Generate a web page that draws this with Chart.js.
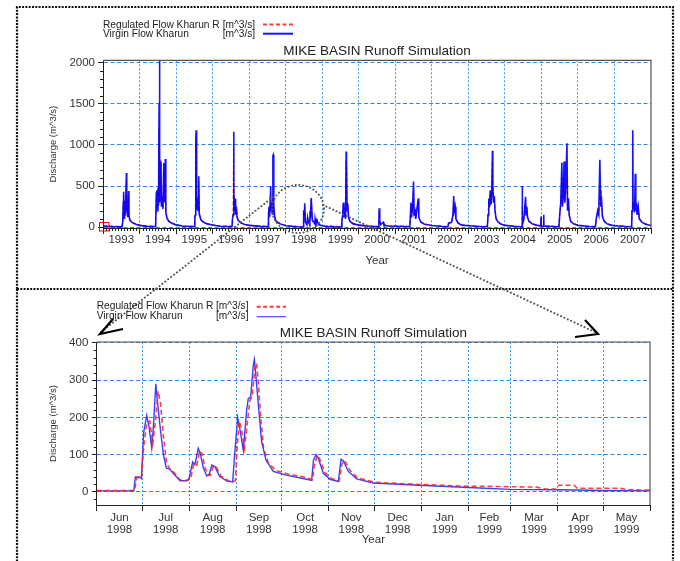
<!DOCTYPE html>
<html><head><meta charset="utf-8">
<script src="https://cdn.jsdelivr.net/npm/chart.js@4/dist/chart.umd.min.js"></script>
<style>
html,body{margin:0;padding:0;background:#fff;}
#wrap{position:relative;width:680px;height:561px;overflow:hidden;background:#fff;}
canvas{position:absolute;left:0;}
#cTop{top:0;}
#cBot{top:290px;}
svg{position:absolute;left:0;top:0;}
</style></head><body>
<div id="wrap">
<canvas id="cTop" width="680" height="290"></canvas>
<canvas id="cBot" width="680" height="271"></canvas>
<svg width="680" height="561" xmlns="http://www.w3.org/2000/svg">
  <g fill="none" stroke="#111" stroke-width="2.2" stroke-dasharray="2 1.3">
    <path d="M17,289 V7 H673 V561"/>
    <path d="M17,289 H673"/>
    <path d="M17,289 V561"/>
  </g>
  <g fill="none" stroke="#555" stroke-width="2" stroke-dasharray="0.1 3.6" stroke-linecap="round">
    <ellipse cx="298" cy="209" rx="26" ry="24"/>
    <path d="M273,197 L101,332"/>
    <path d="M323,205 L597,333"/>
  </g>
  <g fill="none" stroke="#000" stroke-width="2.2" stroke-linejoin="miter">
    <path d="M123,329 L100,334 L113,319"/>
    <path d="M575,337 L598,334 L585,320"/>
  </g>
  <rect x="99.5" y="222.5" width="9.5" height="8.5" fill="none" stroke="#ff0000" stroke-width="1"/>
  <g font-family="'Liberation Sans', Arial, sans-serif" font-size="10.2" fill="#222">
    <text x="103" y="28.3">Regulated Flow Kharun R</text>
    <text x="222.7" y="28.3">[m^3/s]</text>
    <text x="103" y="36.9">Virgin Flow Kharun</text>
    <text x="222.7" y="36.9">[m^3/s]</text>
    <text x="96.7" y="309">Regulated Flow Kharun R</text>
    <text x="216" y="309">[m^3/s]</text>
    <text x="96.7" y="318.6">Virgin Flow Kharun</text>
    <text x="216" y="318.6">[m^3/s]</text>
  </g>
  <line x1="263" y1="24.4" x2="293" y2="24.4" stroke="#ff3b3b" stroke-width="2" stroke-dasharray="4 2.5"/>
  <line x1="263" y1="33.7" x2="293" y2="33.7" stroke="#1515ff" stroke-width="2"/>
  <line x1="256.7" y1="306.7" x2="286" y2="306.7" stroke="#ff3b3b" stroke-width="2" stroke-dasharray="4 2.5"/>
  <line x1="256.7" y1="316.7" x2="286" y2="316.7" stroke="#4a4aff" stroke-width="1.2"/>
</svg>
</div>
<script>
// ---------- DATA: top chart (decimal year, m^3/s) ----------
const topYearLabels = ['1993','1994','1995','1996','1997','1998','1999','2000','2001','2002','2003','2004','2005','2006','2007'];
const topYTickValues = [0, 500, 1000, 1500, 2000];
const topX = [
 1993.000,1993.300,1993.520,1993.540,1993.555,1993.565,1993.575,1993.590,1993.605,1993.620,1993.640,1993.650,1993.665,1993.680,1993.700,1993.710,1993.730,1993.800,1993.900,
 1994.000,1994.200,1994.440,1994.460,1994.475,1994.490,1994.505,1994.520,1994.535,1994.546,1994.555,1994.570,1994.585,1994.600,1994.620,1994.640,1994.665,1994.680,1994.705,1994.720,1994.750,1994.800,1994.900,
 1995.000,1995.200,1995.500,1995.515,1995.530,1995.540,1995.548,1995.556,1995.570,1995.580,1995.595,1995.605,1995.620,1995.635,1995.680,1995.750,1995.850,
 1996.000,1996.200,1996.530,1996.545,1996.560,1996.575,1996.585,1996.600,1996.615,1996.630,1996.650,1996.670,1996.700,1996.780,1996.880,
 1997.000,1997.300,1997.520,1997.530,1997.545,1997.560,1997.590,1997.600,1997.620,1997.635,1997.650,1997.660,1997.675,1997.700,1997.740,1997.850,
 1998.000,1998.300,1998.480,1998.485,1998.500,1998.505,1998.520,1998.540,1998.580,1998.600,1998.620,1998.660,1998.670,1998.677,1998.700,1998.730,1998.800,1998.806,1998.830,1998.856,1998.900,
 1999.000,1999.080,1999.160,1999.250,1999.330,1999.520,1999.540,1999.560,1999.580,1999.595,1999.620,1999.640,1999.655,1999.665,1999.680,1999.700,1999.720,1999.760,1999.850,
 2000.000,2000.300,2000.550,2000.560,2000.575,2000.600,2000.670,2000.690,2000.800,
 2001.000,2001.400,2001.430,2001.445,2001.475,2001.500,2001.515,2001.540,2001.560,2001.630,2001.645,2001.700,2001.800,
 2002.000,2002.300,2002.440,2002.460,2002.540,2002.580,2002.600,2002.615,2002.640,2002.660,2002.720,2002.820,
 2003.000,2003.300,2003.520,2003.540,2003.560,2003.580,2003.600,2003.620,2003.640,2003.660,2003.670,2003.690,2003.710,2003.730,2003.760,2003.820,2003.900,
 2004.000,2004.300,2004.470,2004.475,2004.482,2004.520,2004.540,2004.566,2004.580,2004.600,2004.620,2004.660,2004.750,2004.850,2004.985,2004.990,2004.996,
 2005.055,2005.060,2005.070,2005.400,2005.480,2005.500,2005.530,2005.560,2005.575,2005.600,2005.620,2005.640,2005.660,2005.700,2005.715,2005.740,2005.760,2005.800,2005.880,
 2006.000,2006.300,2006.480,2006.500,2006.540,2006.570,2006.600,2006.615,2006.630,2006.650,2006.670,2006.720,2006.800,2006.900,
 2007.000,2007.300,2007.470,2007.480,2007.500,2007.510,2007.530,2007.550,2007.570,2007.585,2007.600,2007.620,2007.650,2007.680,2007.750,2007.850,2008.000
];
const topVirgin = [
 15,6,4,60,300,430,110,320,150,250,660,180,300,120,440,160,90,55,35,
 22,10,5,420,450,200,480,260,1500,2080,300,500,800,250,380,220,780,300,830,180,110,70,45,
 28,12,6,130,150,1050,1180,300,400,220,350,200,620,160,90,60,40,
 26,12,5,100,150,1160,420,200,350,150,250,120,80,50,32,
 22,10,5,150,250,120,500,200,300,160,870,880,250,120,70,40,
 18,6,3,40,205,118,290,62,30,117,70,27,200,112,355,85,40,100,34,88,30,
 18,12,7,6,4,3,80,150,300,120,250,100,920,800,200,280,120,70,40,
 25,10,4,230,80,30,60,25,15,
 12,5,300,120,250,554,150,220,100,350,120,60,35,
 20,8,4,50,60,150,380,200,250,100,50,25,
 18,8,5,150,350,250,450,280,400,930,500,300,380,200,100,60,35,
 22,8,5,500,30,100,200,370,150,250,120,70,40,25,15,130,15,
 10,150,15,6,5,150,300,785,250,400,800,300,450,1020,200,350,150,70,40,
 22,8,5,100,200,150,820,450,250,300,130,70,40,25,
 18,8,5,200,1180,250,300,180,650,200,300,150,250,100,60,35,20
];
const topRegulated = [
 16,12,10,55,280,390,120,300,160,230,560,200,280,130,380,170,95,60,40,
 25,14,12,380,400,220,450,270,1200,800,320,480,820,260,360,230,700,310,760,200,120,75,50,
 30,15,12,120,140,900,1000,310,380,230,330,210,560,170,95,65,45,
 28,15,12,95,140,950,400,210,330,160,240,130,85,55,36,
 24,13,11,140,230,130,300,210,280,170,320,300,260,130,75,45,
 20,10,4,38,190,130,270,62,31,110,70,28,190,118,345,80,45,98,36,85,32,
 20,15,14,18,10,6,75,140,280,130,240,110,790,780,210,260,130,75,45,
 28,14,10,200,85,35,55,30,20,
 16,10,280,130,230,480,160,210,110,320,130,65,40,
 24,12,10,45,55,140,300,210,240,110,55,30,
 22,12,10,140,330,240,420,270,380,800,480,290,360,210,110,65,40,
 26,12,10,250,35,95,190,330,160,240,130,75,45,30,18,100,18,
 14,120,18,10,10,140,280,600,260,380,620,290,420,600,210,330,160,75,45,
 26,12,10,95,190,160,500,420,240,280,140,75,45,30,
 22,12,10,180,300,260,280,190,320,210,280,160,240,110,65,40,24
];

// ---------- DATA: bottom chart (days since 1 Jun 1998, m^3/s) ----------
const botMonthLabels = [['Jun','1998'],['Jul','1998'],['Aug','1998'],['Sep','1998'],['Oct','1998'],['Nov','1998'],['Dec','1998'],['Jan','1999'],['Feb','1999'],['Mar','1999'],['Apr','1999'],['May','1999']];
const botMonthStarts = [0,30,61,92,122,153,183,214,245,273,304,334,365];
const botYTickValues = [0,100,200,300,400];
const botDays = [0,24.5,25.5,28,29.5,31,33,34.5,36.3,37.5,39,40,42,44,46,48,50.5,55,59.5,61,63.3,64.8,67,68.5,70.3,72.6,74,76,78,81,86,89.7,91,93,94.5,96.7,99,100,101.6,103.3,104,105,106.6,108.8,111.7,116.5,125,138.5,141.8,143,144.7,146,149.5,154,159.4,161.2,162.7,166,171.5,182.5,213,245,273,305,334,365];
const botVirgin = [3,3,40,40,36,160,205,175,118,182,290,245,168,100,64,62,50,30,30,37,80,73,117,100,65,43,45,72,68,42,29,27,100,200,168,112,222,250,255,340,355,312,235,135,85,55,45,34,31,85,100,92,50,34,28,88,84,55,35,24,18,12,7,6,4,3];
const botRegDays = [0,25,26.5,29.5,31,33,35,37,39,40.5,42,44,46,48,51,55,60,62,64,66,68,69.5,71.5,73.5,75,77,79,82,87,90.5,91.5,92.5,94,95.5,97.5,99.5,101,102.5,104.5,105.5,106.5,108,110,113,118,126,139,142.5,143.5,145.5,147,150.5,155,160,161.8,163.5,167,172,183,214,245,260,273,290,296,303,305,315,317,330,345,350,365];
const botRegulated = [4,4,38,38,120,185,190,130,200,270,240,150,80,62,52,32,31,36,75,72,110,102,65,45,45,70,66,42,30,28,30,110,190,170,118,190,245,255,335,345,300,210,120,80,58,48,38,33,70,98,90,52,36,30,75,85,58,38,26,20,15,15,14,13,8,8,18,18,10,10,10,6,5];

// ---------- styling / helpers ----------
const FONT = "'Liberation Sans', Arial, sans-serif";
const GRID_H = '#2f86ea';
const GRID_V = '#3a96f0';
const CLEAR = 'rgba(0,0,0,0)';

const minorTicks = {
  id: 'minorTicks',
  afterDraw(chart, args, opts) {
    const ctx = chart.ctx, a = chart.chartArea;
    ctx.save();
    ctx.strokeStyle = '#222'; ctx.lineWidth = 1; ctx.setLineDash([]);
    (opts.items || []).forEach(it => {
      const s = chart.scales[it.axis];
      it.values.forEach(v => {
        const p = Math.round(s.getPixelForValue(v)) + 0.5;
        ctx.beginPath();
        if (s.isHorizontal()) { ctx.moveTo(p, a.bottom); ctx.lineTo(p, a.bottom + it.len); }
        else { ctx.moveTo(a.left - it.len, p); ctx.lineTo(a.left, p); }
        ctx.stroke();
      });
    });
    ctx.restore();
  }
};
const frame = {
  id: 'frame',
  afterDraw(chart) {
    const ctx = chart.ctx, a = chart.chartArea;
    ctx.save();
    ctx.setLineDash([]); ctx.lineWidth = 1.2; ctx.strokeStyle = '#555';
    ctx.beginPath(); ctx.moveTo(a.left, a.top); ctx.lineTo(a.right, a.top); ctx.lineTo(a.right, a.bottom); ctx.stroke();
    ctx.restore();
  }
};

// top tick positions: year boundaries (grid) interleaved with mid-year (labels)
const topStart = Number(topYearLabels[0]);
const topTickVals = [];
topYearLabels.forEach((l, i) => { topTickVals.push(topStart + i, topStart + i + 0.5); });
topTickVals.push(topStart + topYearLabels.length);
const topYMinor = []; for (let v = 100; v < 2000; v += 100) if (v % 500) topYMinor.push(v);
const topXMinor = []; for (let y = topStart; y < topStart + topYearLabels.length; y++) for (let m = 1; m < 12; m++) topXMinor.push(y + m / 12);

const botTickVals = [];
botMonthLabels.forEach((l, i) => { botTickVals.push(botMonthStarts[i], (botMonthStarts[i] + botMonthStarts[i + 1]) / 2); });
botTickVals.push(botMonthStarts[botMonthStarts.length - 1]);
const botYMinor = []; for (let v = -20; v < 400; v += 20) if (v % 100) botYMinor.push(v);

function xAxis(tickVals, labelFn, min, max, height, fontLH, pad) {
  return {
    type: 'linear', min, max,
    afterBuildTicks: s => { s.ticks = tickVals.map(v => ({ value: v })); },
    afterFit: s => { s.height = height; },
    ticks: { autoSkip: false, maxRotation: 0, minRotation: 0, padding: pad, color: '#333',
             font: { family: FONT, size: 11.5, lineHeight: fontLH }, callback: (v, i) => i % 2 === 1 ? labelFn((i - 1) / 2) : '' },
    grid: { lineWidth: 1, tickLength: 6, tickWidth: 1, tickBorderDash: [],
            color: c => (c.index % 2 === 0 && c.index > 0 && c.index < tickVals.length - 1) ? GRID_V : CLEAR,
            tickColor: c => c.index % 2 === 0 ? '#222' : CLEAR },
    border: { display: true, color: '#222', width: 1, dash: [2, 2] },
    title: { display: true, text: 'Year', color: '#333', font: { family: FONT, size: 11.5 }, padding: { top: 0, bottom: 0 } }
  };
}
function yAxis(tickVals, min, max, width, pad) {
  return {
    min, max,
    afterBuildTicks: s => { s.ticks = tickVals.map(v => ({ value: v })); },
    afterFit: s => { s.width = width; },
    ticks: { color: '#333', padding: pad, font: { family: FONT, size: 11.5 }, callback: v => String(v) },
    grid: { color: GRID_H, lineWidth: 1, tickLength: 5, tickWidth: 1, tickColor: '#222', tickBorderDash: [] },
    border: { display: true, color: '#222', width: 1, dash: [4, 2.5] },
    title: { display: true, text: 'Discharge (m^3/s)', color: '#333', font: { family: FONT, size: 9.5 }, padding: { top: 7.6, bottom: 0 } }
  };
}
function titleOpts(padBottom) {
  return { display: true, text: 'MIKE BASIN Runoff Simulation', fullSize: false, align: 'center', color: '#222',
           font: { family: FONT, size: 13.5, weight: 'normal' }, padding: { top: 0, bottom: padBottom } };
}

new Chart(document.getElementById('cTop'), {
  type: 'line',
  data: { datasets: [
    { label: 'Virgin Flow Kharun [m^3/s]', data: topX.map((x, i) => ({ x, y: topVirgin[i] })),
      borderColor: 'rgba(0,0,255,0.92)', borderWidth: 1.6, pointRadius: 0, tension: 0 },
    { label: 'Regulated Flow Kharun R [m^3/s]', data: topX.map((x, i) => ({ x, y: topRegulated[i] })),
      borderColor: '#ff2020', borderWidth: 1.1, borderDash: [4, 2], pointRadius: 0, tension: 0 }
  ]},
  plugins: [minorTicks, frame],
  options: {
    responsive: false, animation: false, devicePixelRatio: 1,
    layout: { padding: { left: 40, right: 29, top: 43.4, bottom: 22 } },
    scales: {
      x: xAxis(topTickVals, i => topYearLabels[i], topStart, topStart + topYearLabels.length, 40, 1.2, -1),
      y: yAxis(topYTickValues, -10, 2030, 63, 3)
    },
    plugins: {
      legend: { display: false }, tooltip: { enabled: false },
      title: titleOpts(0.7),
      minorTicks: { items: [ { axis: 'y', values: topYMinor, len: 3 }, { axis: 'x', values: topXMinor, len: 3 } ] }
    }
  }
});

new Chart(document.getElementById('cBot'), {
  type: 'line',
  data: { datasets: [
    { label: 'Regulated Flow Kharun R [m^3/s]', data: botRegDays.map((x, i) => ({ x, y: botRegulated[i] })),
      borderColor: 'rgba(255,30,30,0.85)', borderWidth: 1.6, borderDash: [5, 3], pointRadius: 0, tension: 0 },
    { label: 'Virgin Flow Kharun [m^3/s]', data: botDays.map((x, i) => ({ x, y: botVirgin[i] })),
      borderColor: 'rgba(40,40,255,0.9)', borderWidth: 1.4, pointRadius: 0, tension: 0 }
  ]},
  plugins: [minorTicks, frame],
  options: {
    responsive: false, animation: false, devicePixelRatio: 1,
    layout: { padding: { left: 40, right: 30, top: 34.9, bottom: 14 } },
    scales: {
      x: xAxis(botTickVals, i => botMonthLabels[i], botMonthStarts[0], botMonthStarts[botMonthStarts.length - 1], 42, 1.02, 1.45),
      y: yAxis(botYTickValues, -35, 402, 56.7, 3.4)
    },
    plugins: {
      legend: { display: false }, tooltip: { enabled: false },
      title: titleOpts(0.9),
      minorTicks: { items: [ { axis: 'y', values: botYMinor, len: 3 } ] }
    }
  }
});
</script>
</body></html>
